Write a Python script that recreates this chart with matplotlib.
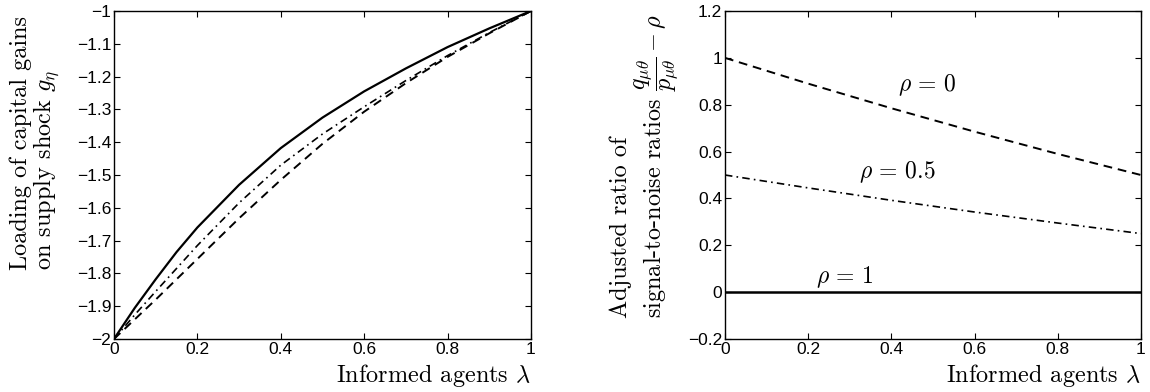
import matplotlib
matplotlib.use("Agg")
import matplotlib.pyplot as plt
import numpy as np

plt.rcParams['font.family'] = ['Liberation Sans', 'DejaVu Sans']
plt.rcParams['mathtext.fontset'] = 'cm'
plt.rcParams['axes.unicode_minus'] = True

# left panel: loading of capital gains on supply shock
lam = [0, 0.05, 0.1, 0.15, 0.2, 0.3, 0.4, 0.5, 0.6, 0.7, 0.8, 0.9, 1.0]
g_solid = [-2, -1.905, -1.818, -1.735, -1.66, -1.53, -1.418, -1.325, -1.245, -1.175, -1.11, -1.053, -1]
g_dashdot = [-2, -1.926, -1.855, -1.785, -1.715, -1.585, -1.47, -1.375, -1.292, -1.212, -1.136, -1.066, -1]
g_dashed = [-2, -1.94, -1.88, -1.818, -1.756, -1.632, -1.515, -1.405, -1.307, -1.22, -1.14, -1.068, -1]

# right panel: adjusted ratio of signal-to-noise ratios
lam_r = [0, 0.2, 0.4, 0.6, 0.8, 1.0]
r_rho0 = [1.0, 0.89, 0.785, 0.685, 0.59, 0.5]
r_rho05 = [0.5, 0.445, 0.392, 0.342, 0.295, 0.25]
r_rho1 = [0, 0, 0, 0, 0, 0]

xticks = [0, 0.2, 0.4, 0.6, 0.8, 1]
xticklabels = ['0', '0.2', '0.4', '0.6', '0.8', '1']
lyticks = [-2, -1.9, -1.8, -1.7, -1.6, -1.5, -1.4, -1.3, -1.2, -1.1, -1]
lyticklabels = ['\u22122', '\u22121.9', '\u22121.8', '\u22121.7', '\u22121.6', '\u22121.5',
                '\u22121.4', '\u22121.3', '\u22121.2', '\u22121.1', '\u22121']
ryticks = [-0.2, 0, 0.2, 0.4, 0.6, 0.8, 1, 1.2]
ryticklabels = ['\u22120.2', '0', '0.2', '0.4', '0.6', '0.8', '1', '1.2']

fig = plt.figure(figsize=(11.5, 3.92), dpi=100)
ax1 = fig.add_axes([0.0991, 0.1352, 0.3626, 0.8367])
ax2 = fig.add_axes([0.6304, 0.1352, 0.3617, 0.8367])

dash = (0, (4.5, 3))
dashdot = (0, (4.5, 2.5, 1, 2.5))

ax1.plot(lam, g_solid, color='k', lw=1.6, ls='-')
ax1.plot(lam, g_dashdot, color='k', lw=1.2, ls=dashdot)
ax1.plot(lam, g_dashed, color='k', lw=1.4, ls=dash)
ax1.set_xlim(0, 1)
ax1.set_ylim(-2, -1)
ax1.set_yticks(lyticks)
ax1.set_yticklabels(lyticklabels)

ax2.plot(lam_r, r_rho0, color='k', lw=1.4, ls=dash)
ax2.plot(lam_r, r_rho05, color='k', lw=1.2, ls=dashdot)
ax2.plot(lam_r, r_rho1, color='k', lw=1.8, ls='-')
ax2.set_xlim(0, 1)
ax2.set_ylim(-0.2, 1.2)
ax2.set_yticks(ryticks)
ax2.set_yticklabels(ryticklabels)

for ax in (ax1, ax2):
    ax.set_xticks(xticks)
    ax.set_xticklabels(xticklabels)
    ax.tick_params(direction='in', top=True, right=True, length=4, width=0.8,
                   labelsize=12.5, pad=2)
    for s in ax.spines.values():
        s.set_linewidth(1.0)
    ax.text(1.0, -0.07, r'Informed agents $\lambda$', transform=ax.transAxes,
            ha='right', va='top', fontsize=17.5, family='cmr10')

ax2.text(0.415, 0.884, r'$\rho\,=\,0$', fontsize=17, ha='left', va='center')
ax2.text(0.322, 0.513, r'$\rho\,=\,0.5$', fontsize=17, ha='left', va='center')
ax2.text(0.219, 0.065, r'$\rho\,=\,1$', fontsize=17, ha='left', va='center')

fig.text(0.031, 0.311, 'Loading of capital gains\non supply shock $g_\\eta$',
         rotation=90, ha='center', va='bottom', multialignment='left',
         fontsize=17.5, family='cmr10', linespacing=1.0)
fig.text(0.561, 0.189,
         'Adjusted ratio of\nsignal-to-noise ratios $\\dfrac{q_{\\mu\\theta}}{p_{\\mu\\theta}} - \\rho$',
         rotation=90, ha='center', va='bottom', multialignment='left',
         fontsize=17.5, family='cmr10', linespacing=1.0)

fig.savefig('out.png', dpi=100)
